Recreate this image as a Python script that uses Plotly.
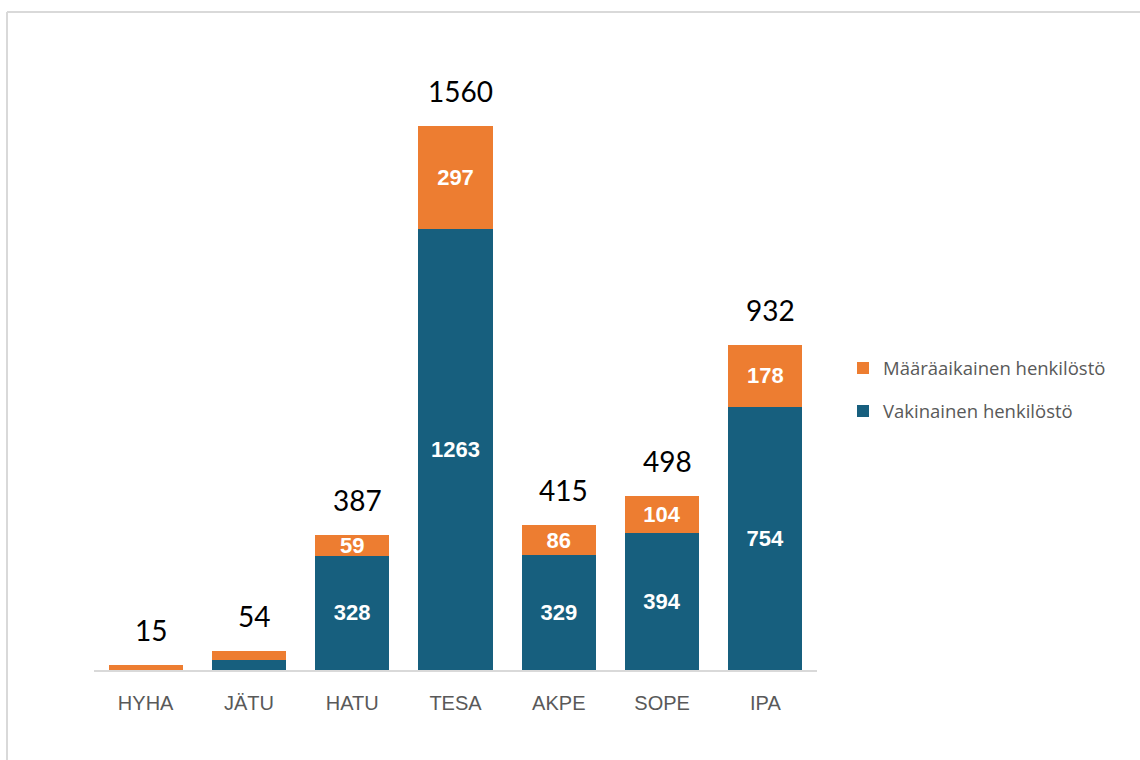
import plotly.graph_objects as go

categories = ["HYHA", "JÄTU", "HATU", "TESA", "AKPE", "SOPE", "IPA"]
vakinainen = [0, 29, 328, 1263, 329, 394, 754]
maaraaikainen = [15, 25, 59, 297, 86, 104, 178]
totals = [15, 54, 387, 1560, 415, 498, 932]
show_inner = [False, False, True, True, True, True, True]

BLUE = "#175F7E"
ORANGE = "#ED7D31"

W, H = 1140, 760
ML, MR, MT, MB = 94, W - 817, 42, 90

inner_font = dict(family="Liberation Sans, Arial", size=22, color="white", weight="bold")

fig = go.Figure()
fig.add_trace(go.Bar(
    x=categories, y=vakinainen, name="Vakinainen henkilöstö",
    marker=dict(color=BLUE, line=dict(width=0)),
    text=[str(v) if s else "" for v, s in zip(vakinainen, show_inner)],
    textposition="inside", insidetextanchor="middle", textangle=0,
    constraintext="none", textfont=inner_font,
    legendgroup="b", legendrank=2, cliponaxis=False, hoverinfo="skip",
))
fig.add_trace(go.Bar(
    x=categories, y=maaraaikainen, name="Määräaikainen henkilöstö",
    marker=dict(color=ORANGE, line=dict(width=0)),
    text=[str(v) if s else "" for v, s in zip(maaraaikainen, show_inner)],
    textposition="inside", insidetextanchor="middle", textangle=0,
    constraintext="none", textfont=inner_font,
    legendgroup="a", legendrank=1, cliponaxis=False, hoverinfo="skip",
))

for c, t in zip(categories, totals):
    fig.add_annotation(x=c, y=t, text=str(t), showarrow=False, yanchor="bottom",
                       yshift=16, xshift=5,
                       font=dict(family="Lato, Carlito, sans-serif", size=28, color="black"))

# outer frame
pw = W - ML - MR
ph = H - MT - MB
def px_x(p):
    return (p - ML) / pw
def px_y(p):
    return (H - MB - p) / ph
fig.add_shape(type="line", xref="paper", yref="paper", x0=px_x(7), x1=px_x(7), y0=px_y(12), y1=px_y(775),
              line=dict(color="#d9d9d9", width=2), layer="below")
fig.add_shape(type="line", xref="paper", yref="paper", x0=px_x(7), x1=px_x(1160), y0=px_y(12), y1=px_y(12),
              line=dict(color="#d9d9d9", width=2), layer="below")

fig.update_layout(
    width=W, height=H,
    barmode="stack", bargap=0.283,
    plot_bgcolor="white", paper_bgcolor="white",
    margin=dict(l=ML, r=MR, t=MT, b=MB),
    uniformtext=dict(minsize=22, mode="show"),
    showlegend=True,
    legend=dict(x=px_x(843), y=px_y(390), xanchor="left", yanchor="middle",
                traceorder="grouped", tracegroupgap=16,
                font=dict(family="Open Sans, sans-serif", size=18.5, color="#595959"),
                bgcolor="rgba(0,0,0,0)", itemwidth=30),
    xaxis=dict(showline=True, linecolor="#d9d9d9", linewidth=1.5, ticks="",
               ticklabelstandoff=14,
               tickfont=dict(family="Liberation Sans, Arial", size=20, color="#595959"),
               showgrid=False, fixedrange=True),
    yaxis=dict(range=[0, 1800], visible=False, showgrid=False, fixedrange=True),
)

fig.write_html("out.html", post_script="document.body.style.margin='0';",
               config={"displayModeBar": False})
